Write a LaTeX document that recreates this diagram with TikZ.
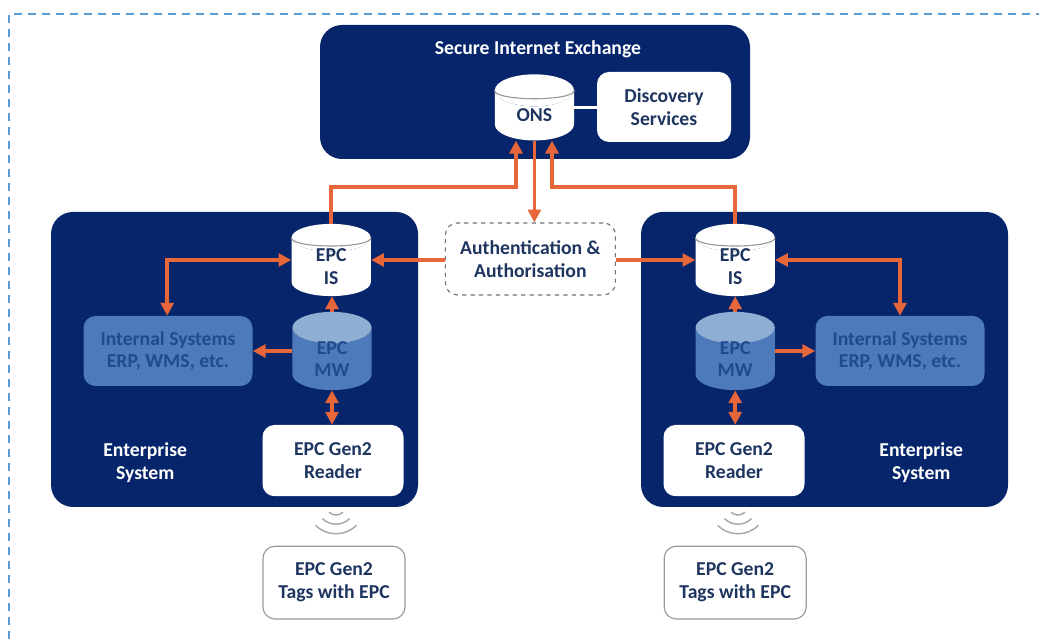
\documentclass[tikz,border=0pt]{standalone}
\usepackage{fontspec}
\setmainfont{Carlito}
\usepackage{tikz}
\usetikzlibrary{arrows.meta,positioning,shapes.geometric,calc}
\definecolor{navy}{HTML}{07256B}
\definecolor{midblue}{HTML}{4C7ABA}
\definecolor{paleblue}{HTML}{8FAED3}
\definecolor{inkblue}{HTML}{1E3560}
\definecolor{deepink}{HTML}{1D4C90}
\definecolor{flow}{HTML}{E8673A}
\definecolor{framecol}{HTML}{5B9BD5}
\newcommand{\rimline}[1]{\draw[gray!80, line width=0.8pt] (#1.before top) .. controls +(0,-0.28) and +(0,-0.28) .. (#1.after top);}

\begin{document}
\begin{tikzpicture}[
    font=\fontsize{14}{16.2}\selectfont\bfseries,
    panel/.style={rectangle, rounded corners=0.55cm, fill=navy, minimum height=7.375cm, minimum width=9.175cm},
    whitebox/.style={rectangle, rounded corners=0.3cm, fill=white, text=inkblue, align=center},
    sysbox/.style={rectangle, rounded corners=0.3cm, fill=midblue, text=deepink, align=center, minimum width=4.225cm, minimum height=1.75cm},
    readerbox/.style={whitebox, minimum width=3.525cm, minimum height=1.78cm},
    tagbox/.style={whitebox, draw=gray!80, line width=0.8pt, minimum width=3.55cm, minimum height=1.82cm},
    store/.style={cylinder, shape border rotate=90, shape aspect=0.9, cylinder uses custom fill, cylinder body fill=white, cylinder end fill=white, text=inkblue, align=center, minimum width=1.98cm, minimum height=1.575cm, inner xsep=0pt, inner ysep=-1.8pt, anchor=shape center},
    mwstore/.style={store, cylinder body fill=midblue, cylinder end fill=paleblue, text=deepink},
    label/.style={text=white, align=center},
    arrow/.style={-{Stealth[inset=0pt,length=3.2mm,width=3.2mm]}, line width=2.6pt, flow},
    twoway/.style={{Stealth[inset=0pt,length=3.2mm,width=3.2mm]}-{Stealth[inset=0pt,length=3.2mm,width=3.2mm]}, line width=2.6pt, flow},
    wave/.style={gray!70, line width=1pt}
]
    \useasboundingbox (0,0) rectangle (25.975,15.975);

    % Outer frame
    \draw[framecol, line width=1.5pt, dash pattern=on 0.2cm off 0.15cm] (0.225,0) -- (0.225,15.625) -- (25.975,15.625);

    % Panels
    \node[panel, minimum width=10.75cm, minimum height=3.35cm] (exch) at (13.375,13.675) {};
    \node[panel] (left) at (5.863,6.988) {};
    \node[panel] (right) at (20.613,6.988) {};

    % Exchange
    \node[label] (title) at (13.45,14.75) {Secure Internet Exchange};
    \node[store, inner ysep=1.7pt] (ons) at (13.36,13.29) {ONS};
    \node[whitebox, minimum width=3.35cm, minimum height=1.75cm] (disc) at (16.6,13.3) {Discovery\\Services};
    \draw[white, line width=2pt] (ons.east |- ons.shape center) -- (disc.west |- ons.shape center);

    % Authentication
    \node[whitebox, draw=gray!90!black, dashed, line width=0.8pt, minimum width=4.25cm, minimum height=1.8cm] (auth) at (13.26,9.5) {Authentication \&\\Authorisation};

    % Left enterprise
    \node[store] (isl) at (8.28,9.475) {EPC\\IS};
    \node[mwstore] (mwl) at (8.3,7.2) {EPC\\MW};
    \node[sysbox] (sysl) at (4.2,7.2) {Internal Systems\\ERP, WMS, etc.};
    \node[readerbox] (readl) at (8.325,4.46) {EPC Gen2\\Reader};
    \node[tagbox] (tagl) at (8.35,1.41) {EPC Gen2\\Tags with EPC};
    \node[label] (entl) at (3.63,4.4) {Enterprise\\System};

    % Right enterprise
    \node[store] (isr) at (18.38,9.475) {EPC\\IS};
    \node[mwstore] (mwr) at (18.38,7.2) {EPC\\MW};
    \node[sysbox] (sysr) at (22.5,7.2) {Internal Systems\\ERP, WMS, etc.};
    \node[readerbox] (readr) at (18.35,4.46) {EPC Gen2\\Reader};
    \node[tagbox] (tagr) at (18.38,1.41) {EPC Gen2\\Tags with EPC};
    \node[label] (entr) at (23.03,4.4) {Enterprise\\System};

    % Cylinder rims
    \rimline{ons}
    \rimline{isl}
    \rimline{isr}

    % Bends
    \coordinate (bendl) at (12.9,11.3);
    \coordinate (bendr) at (13.8,11.3);
    \coordinate (bendsl) at (4.18,9.475);
    \coordinate (bendsr) at (22.5,9.475);

    % Arrows
    \draw[arrow] (isl.north) |- (bendl) -- (bendl |- ons.south);
    \draw[arrow] (isr.north) |- (bendr) -- (bendr |- ons.south);
    \draw[arrow] (ons.south) -- (auth.north -| ons.south);
    \draw[arrow] (auth.west |- isl.shape center) -- (isl.east |- isl.shape center);
    \draw[arrow] (auth.east |- isr.shape center) -- (isr.west |- isr.shape center);
    \draw[twoway] (isl.west |- isl.shape center) -- (bendsl) -- (sysl.north -| bendsl);
    \draw[twoway] (isr.east |- isr.shape center) -- (bendsr) -- (sysr.north -| bendsr);
    \draw[arrow] (mwl.north) -- (isl.south -| mwl.north);
    \draw[arrow] (mwr.north) -- (isr.south -| mwr.north);
    \draw[arrow] (mwl.west |- mwl.shape center) -- (sysl.east);
    \draw[arrow] (mwr.east |- mwr.shape center) -- (sysr.west);
    \draw[twoway] (mwl.south) -- (readl.north -| mwl.south);
    \draw[twoway] (mwr.south) -- (readr.north -| mwr.south);

    % Radio waves
    \foreach \cx in {8.4,18.45} {
        \foreach \r in {0.25,0.48,0.72} {
            \draw[wave] ({\cx-\r*0.707},{3.35-\r*0.707}) arc[start angle=225, end angle=315, radius=\r];
        }
    }
\end{tikzpicture}
\end{document}
